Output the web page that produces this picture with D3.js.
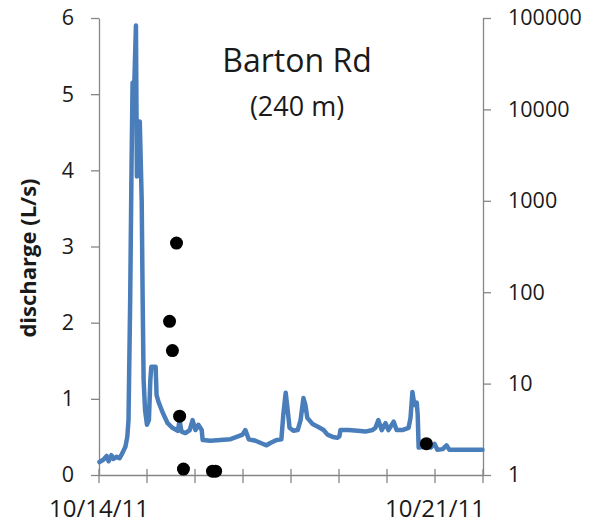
<!DOCTYPE html>
<html lang="en">
<head>
<meta charset="UTF-8">
<title>Barton Rd discharge</title>
<script src="https://cdn.jsdelivr.net/npm/d3@7"></script>
<style>
  body { margin: 0; background: #fff; }
  text { font-family: "Open Sans", sans-serif; fill: #1a1a1a; }
</style>
</head>
<body>
<div id="chart"></div>
<script>
// discharge record, days after 10/14/11 and L/s
let flowDays = [0.02, 0.10, 0.17, 0.21, 0.27, 0.31, 0.38, 0.44, 0.50, 0.56, 0.60, 0.625, 0.66, 0.69, 0.71, 0.74, 0.78, 0.80, 0.83, 0.86,
  0.90, 0.92, 0.94, 0.97, 1.01, 1.05, 1.08, 1.10, 1.19, 1.21, 1.25, 1.33, 1.44, 1.54, 1.65, 1.69, 1.73, 1.81, 1.90, 1.96,
  2.02, 2.08, 2.15, 2.17, 2.33, 2.54, 2.75, 2.92, 3.00, 3.06, 3.13, 3.27, 3.42, 3.50, 3.58, 3.71, 3.81, 3.85, 3.90, 3.94,
  3.98, 4.06, 4.15, 4.21, 4.27, 4.31, 4.35, 4.46, 4.58, 4.69, 4.77, 4.88, 4.98, 5.02, 5.04, 5.21, 5.40, 5.56, 5.71, 5.77,
  5.83, 5.90, 5.98, 6.04, 6.15, 6.21, 6.33, 6.46, 6.50, 6.54, 6.58, 6.63, 6.65, 6.67, 6.79, 6.92, 7.00, 7.06, 7.17, 7.25,
  7.31, 7.54, 7.75, 8.00]
let flowLs = [0.17, 0.20, 0.25, 0.18, 0.26, 0.21, 0.24, 0.22, 0.29, 0.37, 0.50, 0.72, 2.3, 4.15, 5.15, 5.0, 5.9, 3.92, 4.4, 4.64,
  3.6, 2.3, 1.25, 0.85, 0.66, 0.72, 1.25, 1.42, 1.42, 1.05, 0.96, 0.83, 0.68, 0.62, 0.58, 0.71, 0.57, 0.55, 0.59, 0.72,
  0.59, 0.66, 0.59, 0.46, 0.45, 0.46, 0.47, 0.51, 0.53, 0.59, 0.47, 0.45, 0.41, 0.39, 0.42, 0.46, 0.47, 0.79, 1.08, 0.86,
  0.62, 0.58, 0.59, 0.72, 1.01, 0.92, 0.75, 0.67, 0.63, 0.59, 0.53, 0.50, 0.49, 0.51, 0.59, 0.59, 0.58, 0.57, 0.59, 0.62,
  0.72, 0.59, 0.68, 0.59, 0.70, 0.59, 0.59, 0.62, 0.75, 1.09, 0.92, 0.95, 0.79, 0.36, 0.37, 0.36, 0.41, 0.33, 0.34, 0.39,
  0.33, 0.33, 0.33, 0.33]

// sample points on the log (right) axis
let sampleDays = [1.48, 1.54, 1.625, 1.69, 1.77, 2.375, 2.44, 6.83]
let sampleVals = [48, 23, 345, 4.4, 1.16, 1.1, 1.1, 2.2]

let leftTicks = [0, 1, 2, 3, 4, 5, 6]
let rightTicks = [1, 10, 100, 1000, 10000, 100000]
let dateLabels = ["10/14/11", "10/21/11"]

let width = 590, height = 526
let plotTop = 18, plotBottom = 475
let plotLeft = 99, plotRight = 483
let start = new Date(2011, 9, 14)
let day = d => new Date(start.getTime() + d * 864e5)
let fmt = d3.timeFormat("%-m/%-d/%y")
let axisColor = "#868686"

let svg = d3.select("#chart").append("svg")
  .attr("width", width).attr("height", height)

let x = d3.scaleTime().domain([start, day(8)]).range([plotLeft - 0.5, plotRight - 0.5])
let yL = d3.scaleLinear().domain([0, 6]).range([plotBottom, plotTop])
let yR = d3.scaleLog().domain([1, 100000]).range([plotBottom, plotTop])

// left axis
svg.append("g").attr("transform", "translate(" + plotLeft + ",0)")
  .call(d3.axisLeft(yL).tickValues(leftTicks).tickFormat(d3.format("d"))
    .tickSizeInner(8).tickSizeOuter(0).tickPadding(17))
// right axis
svg.append("g").attr("transform", "translate(" + plotRight + ",0)")
  .call(d3.axisRight(yR).tickValues(rightTicks).tickFormat(d3.format("d"))
    .tickSizeInner(8).tickSizeOuter(0).tickPadding(17))
// bottom axis, one tick a day, ticks cross the line
let gb = svg.append("g").attr("transform", "translate(0," + plotBottom + ")")
  .call(d3.axisBottom(x).ticks(d3.timeDay.every(1)).tickSizeInner(8).tickSizeOuter(0)
    .tickFormat(d => dateLabels.includes(fmt(d)) ? fmt(d) : ""))
gb.selectAll(".tick line").attr("y1", -6).attr("y2", 8)

svg.selectAll(".domain").attr("stroke", axisColor).attr("stroke-width", 1.3)
svg.selectAll(".tick line").attr("stroke", axisColor).attr("stroke-width", 1.3)
svg.selectAll(".tick text").style("font-size", "21.5px").attr("fill", "#1a1a1a")
gb.selectAll(".tick text").attr("y", 25).style("font-size", "24px")

// discharge line
let flow = flowDays.map((d, i) => ({ t: day(d), v: flowLs[i] }))
svg.append("path")
  .datum(flow)
  .attr("fill", "none")
  .attr("stroke", "#4a7ebb")
  .attr("stroke-width", 4.5)
  .attr("stroke-linejoin", "round")
  .attr("stroke-linecap", "round")
  .attr("d", d3.line().x(d => x(d.t)).y(d => yL(d.v)))

// samples
svg.selectAll("circle.sample")
  .data(sampleDays.map((d, i) => ({ t: day(d), v: sampleVals[i] })))
  .enter().append("circle")
  .attr("class", "sample")
  .attr("cx", d => x(d.t))
  .attr("cy", d => yR(d.v))
  .attr("r", 6.5)
  .attr("fill", "#000")

// titles
svg.append("text").attr("x", 297).attr("y", 72).attr("text-anchor", "middle")
  .style("font-size", "32px").text("Barton Rd")
svg.append("text").attr("x", 297).attr("y", 116).attr("text-anchor", "middle")
  .style("font-size", "27px").text("(240 m)")
svg.append("text")
  .attr("transform", "translate(36,258) rotate(-90)")
  .attr("text-anchor", "middle")
  .style("font-size", "22px").style("font-weight", "bold")
  .text("discharge (L/s)")
</script>
</body>
</html>
